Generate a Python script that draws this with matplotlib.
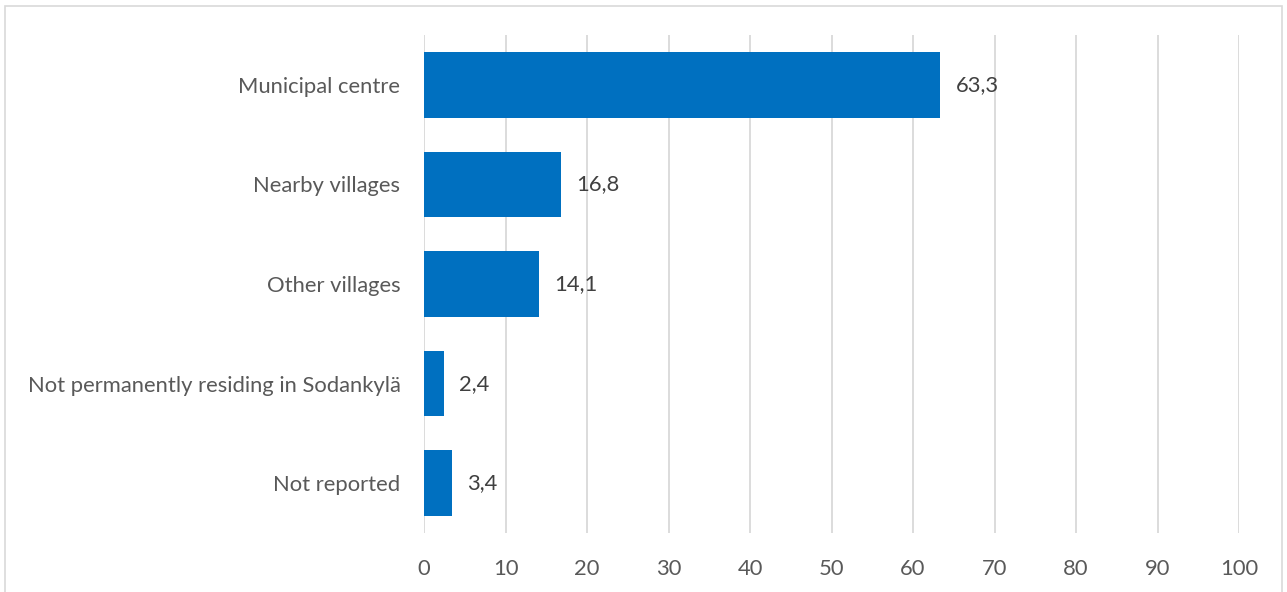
import matplotlib.pyplot as plt
from matplotlib.patches import Rectangle

# Andmed
kategoriat = ["Municipal centre", "Nearby villages", "Other villages",
              "Not permanently residing in Sodankylä", "Not reported"]
osuudet = [63.3, 16.8, 14.1, 2.4, 3.4]
x_tikit = list(range(0, 101, 10))

FONTTI = ["Lato", "DejaVu Sans"]
SININEN = "#0070C0"
HARMAA_TEKSTI = "#595959"
GRID = "#D9D9D9"
KOKO = 15.8


def main():
    plt.rcParams['font.family'] = FONTTI
    fig = plt.figure(figsize=(12.87, 5.92), dpi=100)
    ax = fig.add_axes([424 / 1287, 1 - 533 / 592, (1239 - 424) / 1287, (533 - 35) / 592])

    y = list(range(len(kategoriat)))
    ax.barh(y, osuudet, height=0.66, color=SININEN, zorder=3)

    # arvot palkkien perään
    for yi, arvo in zip(y, osuudet):
        ax.text(arvo + 1.9, yi, f"{arvo:.1f}".replace(".", ","),
                va="center", ha="left", fontsize=KOKO, color="#404040")

    ax.set_xlim(0, 100)
    ax.set_ylim(len(kategoriat) - 0.5, -0.5)
    ax.set_xticks(x_tikit)
    ax.set_yticks(y)
    ax.set_yticklabels(kategoriat)
    ax.xaxis.grid(True, color=GRID, linewidth=1.3, zorder=0)
    ax.tick_params(axis="both", length=0, labelsize=KOKO, labelcolor=HARMAA_TEKSTI)
    ax.tick_params(axis="x", pad=19)
    ax.tick_params(axis="y", pad=17)
    for s in ax.spines.values():
        s.set_visible(False)

    # ulkokehys
    fig.patches.append(Rectangle((5 / 1287, -0.01), 1277 / 1287, 1 - 6 / 592 + 0.01,
                                 transform=fig.transFigure, fill=False,
                                 edgecolor="#D9D9D9", linewidth=1.2))

    fig.savefig("out.png", dpi=100)


if __name__ == "__main__":
    main()
